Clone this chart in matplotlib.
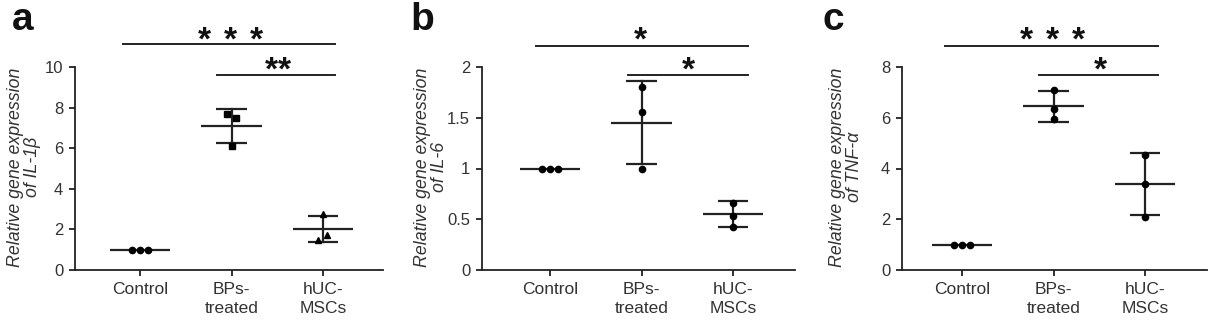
import matplotlib
matplotlib.use("Agg")
import matplotlib.pyplot as plt
import numpy as np

plt.rcParams['font.family'] = ['Liberation Sans', 'DejaVu Sans']

categories = ["Control", "BPs-\ntreated", "hUC-\nMSCs"]

# panel a: IL-1beta
a_control = [1.0, 1.0, 1.0]
a_bps = [7.68, 7.49, 6.12]
a_huc = [2.78, 1.50, 1.70]
a_mean = [1.0, 7.10, 2.02]
a_sd = [0.0, 0.84, 0.66]

# panel b: IL-6
b_control = [1.0, 1.0, 1.0]
b_bps = [1.80, 1.56, 1.00]
b_huc = [0.66, 0.53, 0.42]
b_mean = [1.0, 1.45, 0.55]
b_sd = [0.0, 0.41, 0.125]

# panel c: TNF-alpha
c_control = [1.0, 1.0, 1.0]
c_bps = [7.11, 6.33, 5.94]
c_huc = [4.55, 3.39, 2.10]
c_mean = [1.0, 6.45, 3.38]
c_sd = [0.0, 0.61, 1.23]

panels = [
    dict(letter="a", gene="IL-1β", data=[a_control, a_bps, a_huc], mean=a_mean, sd=a_sd,
         markers=["o", "s", "^"], ylim=10, yticks=[0, 2, 4, 6, 8, 10], ytl=["0", "2", "4", "6", "8", "10"],
         top=(3, 11.12, 11.82, -0.19, 2.13), low=(2, 9.6, 10.34, 0.84, 2.13),
         left=75, right=383, x0=140, lx=23, ly=30, yl=24),
    dict(letter="b", gene="IL-6", data=[b_control, b_bps, b_huc], mean=b_mean, sd=b_sd,
         markers=["o", "o", "o"], ylim=2, yticks=[0, 0.5, 1, 1.5, 2], ytl=["0", "0.5", "1", "1.5", "2"],
         top=(1, 2.21, 2.365, -0.15, 2.16), low=(1, 1.92, 2.07, 0.85, 2.16),
         left=482, right=795, x0=550, lx=422, ly=30, yl=431),
    dict(letter="c", gene="TNF-α", data=[c_control, c_bps, c_huc], mean=c_mean, sd=c_sd,
         markers=["o", "o", "o"], ylim=8, yticks=[0, 2, 4, 6, 8], ytl=["0", "2", "4", "6", "8"],
         top=(3, 8.82, 9.45, -0.19, 2.14), low=(1, 7.68, 8.27, 0.84, 2.14),
         left=902, right=1207, x0=962, lx=833, ly=30, yl=846),
]

# x offsets of the replicate points within each group
offsets = [[-0.09, 0.0, 0.09], [-0.05, 0.05, 0.0], [0.0, -0.05, 0.04]]
offsets_bc = [[-0.09, 0.0, 0.09], [0.0, 0.0, 0.0], [0.0, 0.0, 0.0]]

W, H = 1216, 330
fig = plt.figure(figsize=(W / 100, H / 100), dpi=100)
col = "#222222"
txt = "#333333"
spacing = 91.5
bottom_px, top_px = 270, 67
star_fs = 24
star_step = 26 / spacing  # spacing between spaced-out stars in data units


def stars(ax, n, yc, center, spaced):
    step = star_step if spaced else 13.5 / spacing
    xs = [center + (k - (n - 1) / 2) * step for k in range(n)]
    for xv in xs:
        ax.annotate("*", xy=(xv, yc), xycoords="data", xytext=(0, -0.58 * star_fs),
                    textcoords="offset points", ha="center", va="baseline",
                    fontsize=star_fs, fontweight="bold", color="#111111", annotation_clip=False)


for pi, p in enumerate(panels):
    ax = fig.add_axes([p["left"] / W, (H - bottom_px) / H, (p["right"] - p["left"]) / W,
                       (bottom_px - top_px) / H])
    xl = (p["left"] - p["x0"]) / spacing
    xr = (p["right"] - p["x0"]) / spacing
    ax.set_xlim(xl, xr)
    ax.set_ylim(0, p["ylim"])
    offs = offsets if pi == 0 else offsets_bc
    for i in range(3):
        m, s = p["mean"][i], p["sd"][i]
        ax.plot([i - 0.33, i + 0.33], [m, m], color=col, lw=1.6, solid_capstyle="butt", zorder=3)
        if s > 0:
            ax.plot([i, i], [m - s, m + s], color=col, lw=1.6, zorder=3)
            for yv in (m - s, m + s):
                ax.plot([i - 0.165, i + 0.165], [yv, yv], color=col, lw=1.6, solid_capstyle="butt", zorder=3)
        xs = [i + o for o in offs[i]]
        ax.plot(xs, p["data"][i], linestyle="none", marker=p["markers"][i], ms=4.5,
                color="black", zorder=4)
    # significance bars
    n1, y1, ty1, xa1, xb1 = p["top"]
    n2, y2, ty2, xa2, xb2 = p["low"]
    ax.plot([xa1, xb1], [y1, y1], color=col, lw=1.4, clip_on=False)
    ax.plot([xa2, xb2], [y2, y2], color=col, lw=1.4, clip_on=False)
    stars(ax, n1, ty1, 0.99, True)
    stars(ax, n2, ty2, 1.51, False)

    for sp in ["top", "right"]:
        ax.spines[sp].set_visible(False)
    for sp in ["left", "bottom"]:
        ax.spines[sp].set_linewidth(1.3)
        ax.spines[sp].set_color(col)
    ax.set_xticks([0, 1, 2])
    ax.set_xticklabels(categories, fontsize=12.5, color=txt, linespacing=1.28)
    ax.set_yticks(p["yticks"])
    ax.set_yticklabels(p["ytl"], fontsize=12, color=txt)
    ax.tick_params(axis="both", direction="out", length=4, width=1.3, color=col, pad=4.5)
    ax.tick_params(axis="x", pad=5)
    fig.text(p["yl"] / W, 1 - 167 / H, "Relative gene expression\nof " + p["gene"],
             rotation=90, ha="center", va="center", fontsize=12.8, style="italic",
             color=txt, linespacing=1.05, multialignment="center")
    fig.text(p["lx"] / W, 1 - p["ly"] / H, p["letter"], fontsize=28, fontweight="bold",
             ha="center", va="baseline", color="#111111")

fig.savefig("out.png", dpi=100)
